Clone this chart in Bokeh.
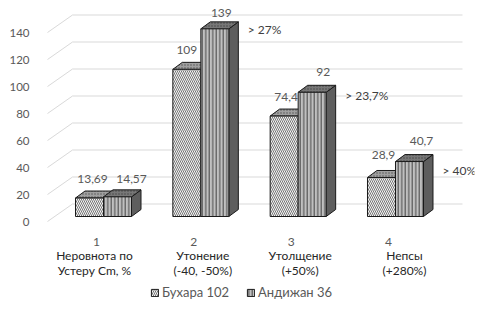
from bokeh.plotting import figure
from bokeh.models import (ColumnDataSource, Range1d, LinearAxis, FixedTicker,
                          Legend, LegendItem)
from bokeh.embed import file_html
from bokeh.resources import INLINE
from bokeh.core.properties import value

# ---------------- data ----------------
categories = [1, 2, 3, 4]
category_numbers = ["1", "2", "3", "4"]
category_names = ["Неровнота по\nУстеру Cm, %", "Утонение\n(-40, -50%)",
                  "Утолщение\n(+50%)", "Непсы\n(+280%)"]
series_names = ["Бухара 102", "Андижан 36"]
bukhara = [13.69, 109, 74.4, 28.9]
andijan = [14.57, 139, 92, 40.7]
increase_labels = ["> 27%", "> 23,7%", "> 40%"]
increase_cats = [2, 3, 4]
y_ticks = [0, 20, 40, 60, 80, 100, 120, 140]

# ---------------- layout (pixels) ----------------
FIG_W, FIG_H = 482, 314
B_LEFT, B_TOP, B_RIGHT, B_BOTTOM = 44, 0, 8, 8
FRAME_W = FIG_W - B_LEFT - B_RIGHT
FRAME_H = FIG_H - B_TOP - B_BOTTOM
SX = 97.33          # px per category step
SY = 1.35           # px per value unit
X0_PX = 59          # first category centre from frame left
Y0_PX = 216         # value zero from frame top

x_start = categories[0] - X0_PX / SX
x_end = x_start + FRAME_W / SX
y_end = Y0_PX / SY
y_start = y_end - FRAME_H / SY

def px_x(px):
    return px / SX

def px_y(px):
    return px / SY

W = px_x(28)
DX = px_x(9.5)
DY = px_y(7)
FONT = value("Lato")
GREY = "#595959"

p = figure(width=FIG_W, height=FIG_H, output_backend="svg", toolbar_location=None,
           x_range=Range1d(x_start, x_end), y_range=Range1d(y_start, y_end),
           x_axis_location=None, y_axis_location=None,
           min_border_left=B_LEFT, min_border_right=B_RIGHT,
           min_border_top=B_TOP, min_border_bottom=B_BOTTOM)
p.outline_line_color = None
p.grid.grid_line_color = None
p.background_fill_color = "white"

# y axis placed on the front edge of the 3D floor
shift = px_y(5)
p.extra_y_ranges = {"axis": Range1d(y_start + shift, y_end + shift)}
ax = LinearAxis(y_range_name="axis", ticker=FixedTicker(ticks=y_ticks))
ax.axis_line_color = None
ax.major_tick_line_color = None
ax.minor_tick_line_color = None
ax.major_label_standoff = 9
ax.major_label_text_font = "Lato"
ax.major_label_text_font_size = "11.5px"
ax.major_label_text_color = GREY
p.add_layout(ax, "left")

# 3D gridlines (front diagonal + back wall)
gx_front = x_start + px_x(3)
gx_back = x_start + px_x(28)
gx_right = x_start + px_x(418)
grid_xs = [[gx_front, gx_back, gx_right] for t in y_ticks]
grid_ys = [[t - px_y(5), t + px_y(12.5), t + px_y(12.5)] for t in y_ticks]
p.multi_line(grid_xs, grid_ys, line_color="#d9d9d9", line_width=1)

# bars
b_src = ColumnDataSource(dict(left=[c - W for c in categories], right=categories,
                              top=bukhara, bottom=[0] * 4))
a_src = ColumnDataSource(dict(left=categories, right=[c + W for c in categories],
                              top=andijan, bottom=[0] * 4))

b_top_xs = [[c - W, c, c + DX, c - W + DX] for c in categories]
b_top_ys = [[v, v, v + DY, v + DY] for v in bukhara]
a_top_xs = [[c, c + W, c + W + DX, c + DX] for c in categories]
a_top_ys = [[v, v, v + DY, v + DY] for v in andijan]
a_side_xs = [[c + W, c + W + DX, c + W + DX, c + W] for c in categories]
a_side_ys = [[0, DY, v + DY, v] for v in andijan]

LINE = dict(line_color="#1a1a1a", line_width=1)

p.patches(b_top_xs, b_top_ys, fill_color="#a0a0a0", hatch_pattern=".",
          hatch_color="#555555", hatch_scale=3, **LINE)
rb = p.quad(left="left", right="right", top="top", bottom="bottom", source=b_src,
            fill_color="#f4f4f4", hatch_pattern="\\", hatch_color="#555555",
            hatch_scale=4, hatch_weight=0.8, **LINE)
p.patches(a_side_xs, a_side_ys, fill_color="#5e5e5e", **LINE)
p.patches(a_top_xs, a_top_ys, fill_color="#777777", hatch_pattern=".",
          hatch_color="#444444", hatch_scale=3, **LINE)
ra = p.quad(left="left", right="right", top="top", bottom="bottom", source=a_src,
            fill_color="#c0c0c0", hatch_pattern="|", hatch_color="#454545",
            hatch_scale=3.5, hatch_weight=1, **LINE)

# value labels (offsets in px: horizontal, above bar top)
def fmt(v):
    return f"{v:g}".replace(".", ",")

b_lab_dx = [3, 0, 2, 2]
a_lab_dx = [14, 6.5, 11, 12]
b_lab_dy = [19.5, 19, 19.5, 22]
a_lab_dy = [18, 16, 20, 21]
lab_x = ([c - W / 2 + px_x(d) for c, d in zip(categories, b_lab_dx)] +
         [c + W / 2 + px_x(d) for c, d in zip(categories, a_lab_dx)])
lab_y = ([v + px_y(d) for v, d in zip(bukhara, b_lab_dy)] +
         [v + px_y(d) for v, d in zip(andijan, a_lab_dy)])
lab_t = [fmt(v) for v in bukhara + andijan]
p.text(lab_x, lab_y, text=lab_t, text_font=FONT, text_font_size="12px",
       text_color=GREY, text_align="center", text_baseline="middle")

# increase annotations
inc_dy = [1, 3, 9]
inc_x = [c + W + DX + px_x(9.5) for c in increase_cats]
inc_y = [andijan[c - 1] - px_y(d) for c, d in zip(increase_cats, inc_dy)]
p.text(inc_x, inc_y, text=increase_labels, text_font=FONT, text_font_size="12px",
       text_color="#404040", text_align="left", text_baseline="middle")

# category numbers and names
num_x = [c - px_x(7) for c in categories]
p.text(num_x, [-px_y(25)] * 4, text=category_numbers, text_font=FONT,
       text_font_size="12px", text_color=GREY, text_align="center",
       text_baseline="middle")
name_dx = [-9, 2, 2, 9]
name_x = [c + px_x(d) for c, d in zip(categories, name_dx)]
p.text(name_x, [-px_y(46.5)] * 4, text=category_names, text_font=FONT,
       text_font_size="12px", text_color="#262626", text_align="center",
       text_baseline="middle", text_line_height=1.05)

# legend
legend = Legend(items=[LegendItem(label=series_names[0], renderers=[rb]),
                       LegendItem(label=series_names[1], renderers=[ra])],
                orientation="horizontal", location=(106, 6),
                glyph_width=9, glyph_height=9, label_standoff=3, spacing=17,
                padding=0, margin=0, label_height=12,
                label_text_font="Lato", label_text_font_size="13px",
                label_text_color=GREY,
                background_fill_alpha=0, border_line_alpha=0)
p.add_layout(legend)

open("out.html", "w").write(file_html(p, INLINE))
